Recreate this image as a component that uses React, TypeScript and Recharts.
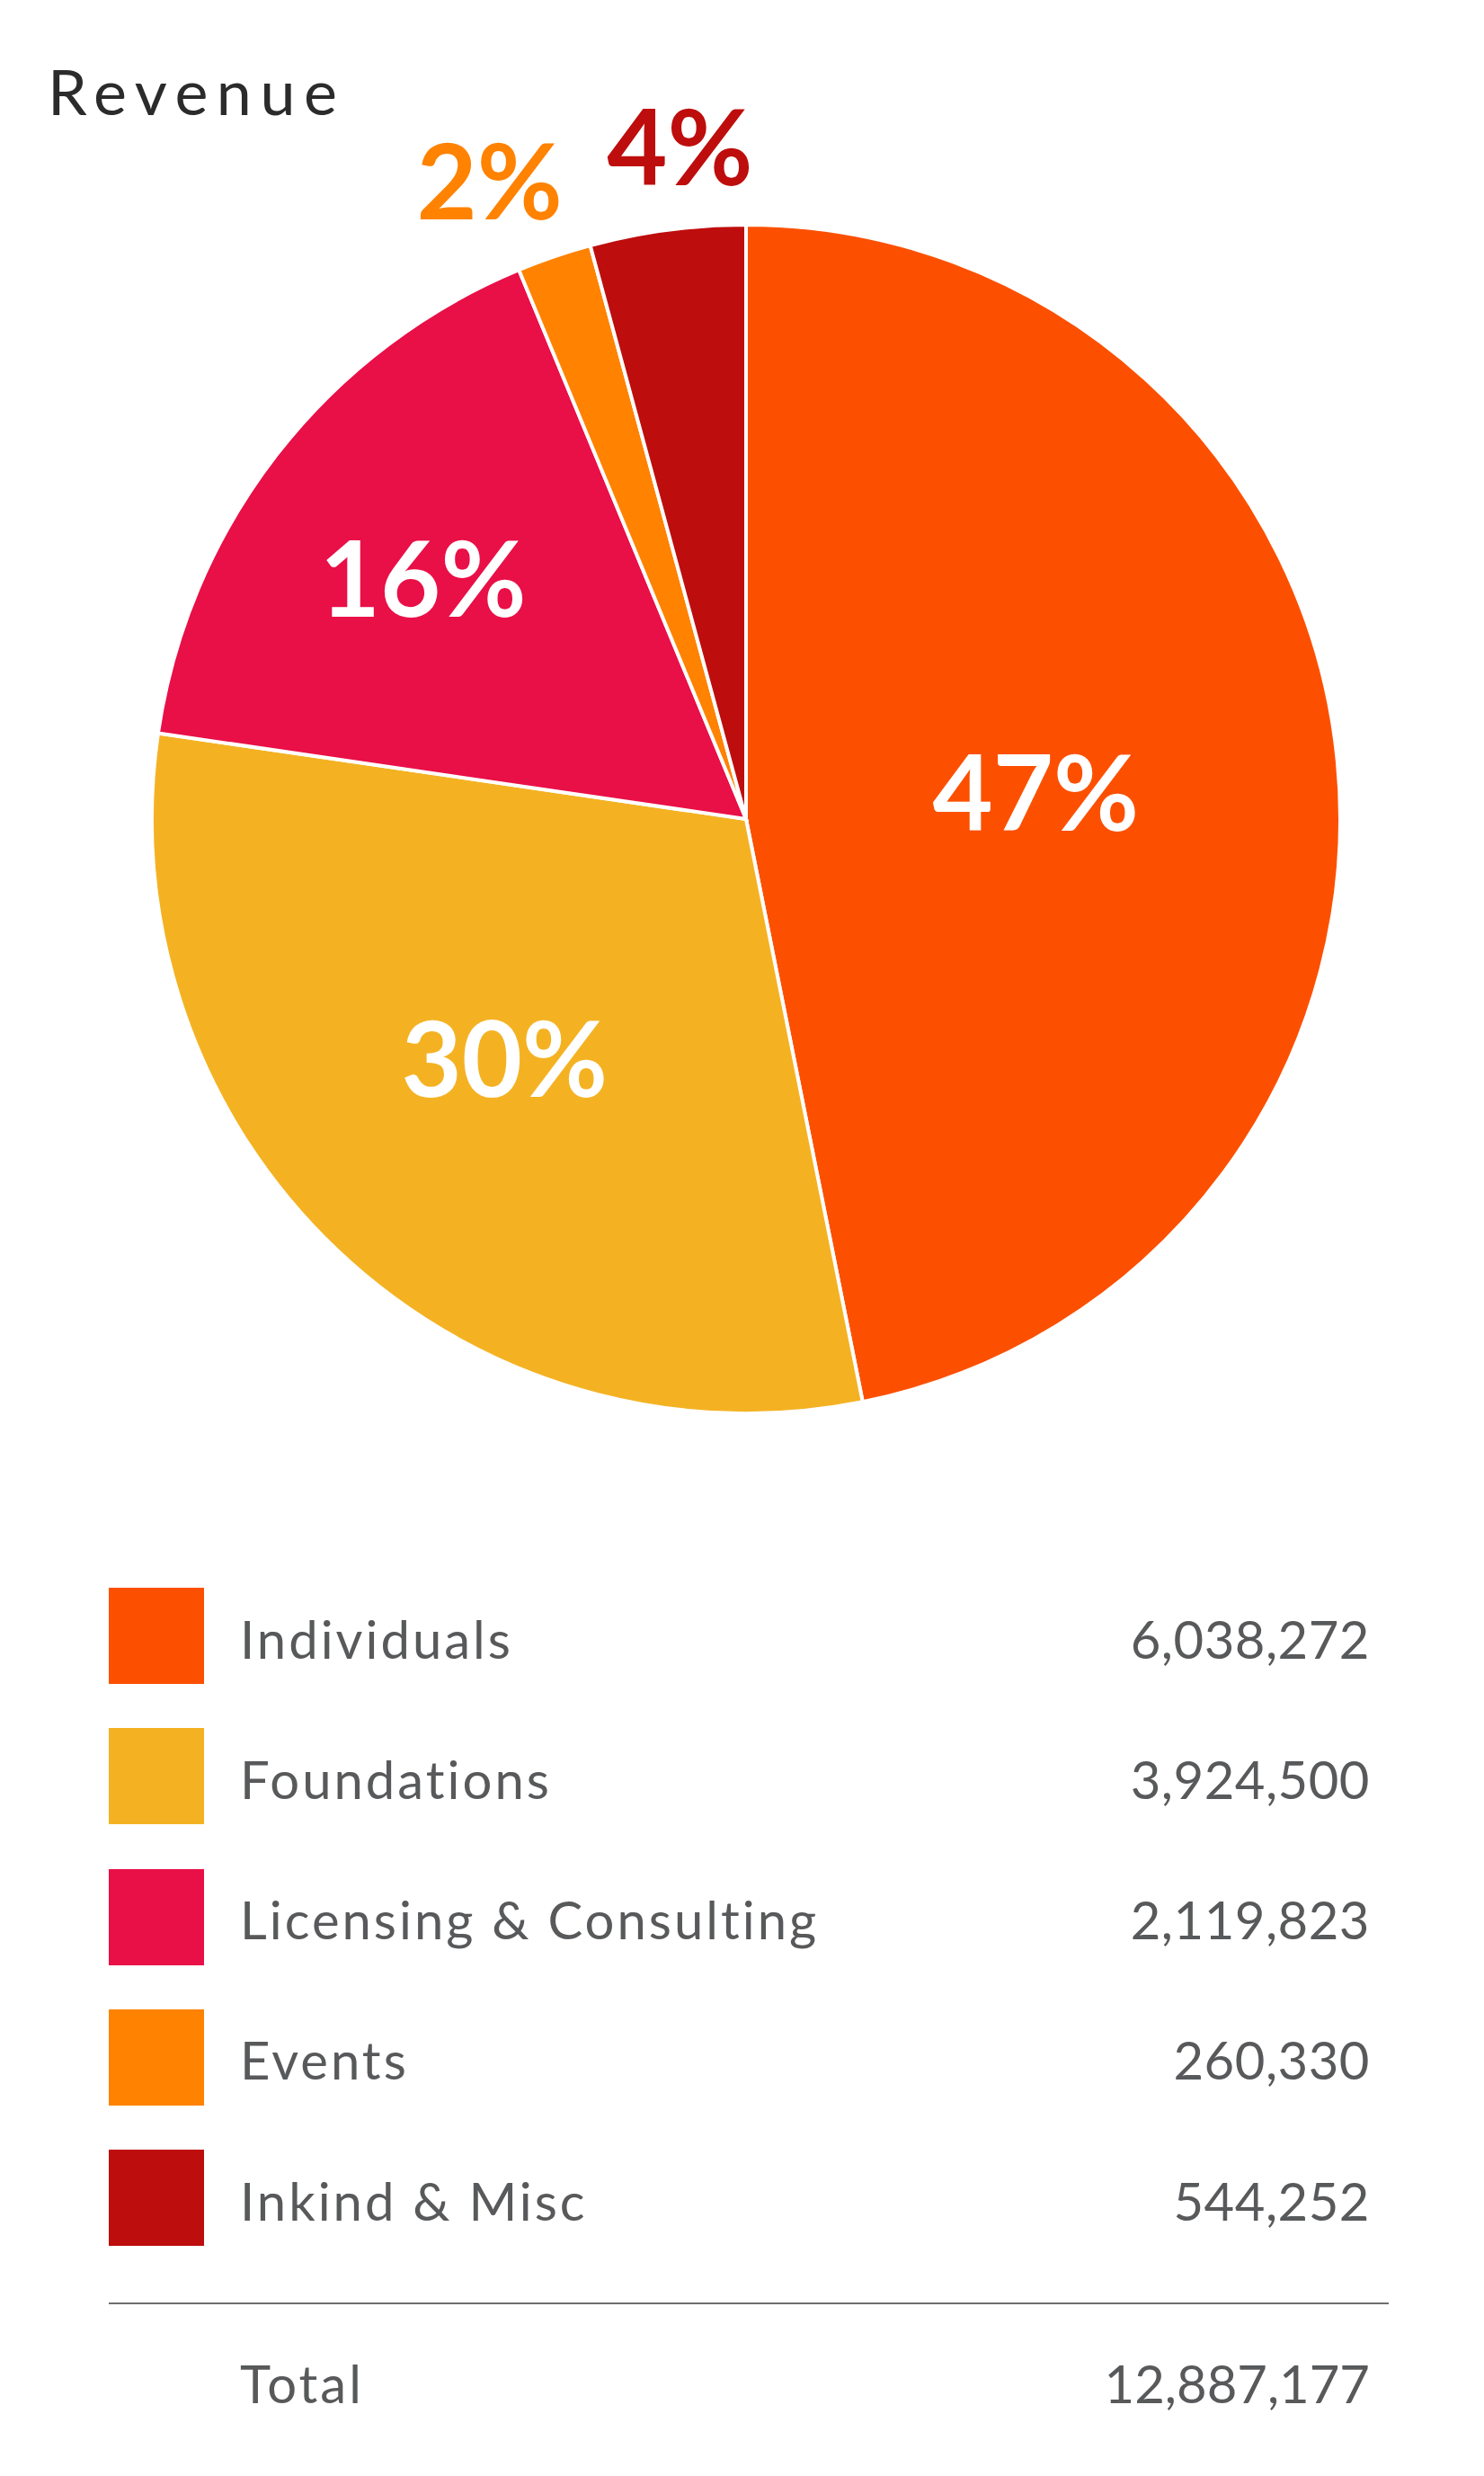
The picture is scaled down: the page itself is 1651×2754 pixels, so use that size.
import React from 'react';
import { PieChart, Pie, Cell } from 'recharts';

// revenue by source
const categories = ['Individuals', 'Foundations', 'Licensing & Consulting', 'Events', 'Inkind & Misc'];
const amounts = [6038272, 3924500, 2119823, 260330, 544252];
const colors = ['#FC5000', '#F4B223', '#E90F47', '#FF8200', '#BE0D0D'];
const title = 'Revenue';
const totalLabel = 'Total';

// label placement per slice: [radius factor, angle nudge in degrees, inside?]
const labelPlacement: [number, number, boolean][] = [
    [0.49, 0, true],
    [0.57, -2, true],
    [0.68, 1, true],
    [1.16, 3, false],
    [1.14, -2, false],
];

const total = amounts.reduce((a, b) => a + b, 0);
const data = categories.map((name, i) => ({ name, value: amounts[i] }));

const FONT = 'Lato, "Open Sans", sans-serif';
const GREY = '#58595B';
const RAD = Math.PI / 180;

const fmt = (n: number) => n.toLocaleString('en-US');

const renderLabel = (props: any) => {
    const { cx, cy, midAngle, outerRadius, index, value } = props;
    const [k, nudge, inside] = labelPlacement[index];
    const a = (midAngle + nudge) * RAD;
    const r = outerRadius * k;
    const x = cx + r * Math.cos(a);
    const y = cy - r * Math.sin(a);
    return (
        <text
            x={x}
            y={y}
            fill={inside ? '#FFFFFF' : colors[index]}
            textAnchor="middle"
            dominantBaseline="central"
            fontFamily={FONT}
            fontWeight={700}
            fontSize={116}
        >
            {Math.round((value / total) * 100)}%
        </text>
    );
};

const ROW_TOP = 1766;
const ROW_STEP = 156.25;
const SWATCH = 107;
const LEGEND_FS = 58;
const VALUE_RIGHT = 1524;

export default function App() {
    return (
        <div style={{ position: 'absolute', left: 0, top: 0, width: 1651, height: 2754, background: '#fff', fontFamily: FONT }}>
            <PieChart width={1651} height={1700} style={{ position: 'absolute', left: 0, top: 0 }}>
                <Pie
                    data={data}
                    dataKey="value"
                    nameKey="name"
                    cx={825}
                    cy={906}
                    outerRadius={661}
                    startAngle={90}
                    endAngle={-270}
                    stroke="#FFFFFF"
                    strokeWidth={4}
                    label={renderLabel}
                    labelLine={false}
                    isAnimationActive={false}
                >
                    {data.map((d, i) => (
                        <Cell key={d.name} fill={colors[i]} />
                    ))}
                </Pie>
            </PieChart>

            <div style={{ position: 'absolute', left: 53, top: 128 - 0.887 * 70, fontSize: 70, lineHeight: '70px', letterSpacing: 9.5, color: '#2B2B2B' }}>
                {title}
            </div>

            {/* legend rows */}
            {data.map((d, i) => {
                const top = ROW_TOP + i * ROW_STEP;
                const textTop = top + 79 - 0.887 * LEGEND_FS;
                return (
                    <React.Fragment key={d.name}>
                        <div style={{ position: 'absolute', left: 121, top, width: 106, height: SWATCH, background: colors[i] }} />
                        <div style={{ position: 'absolute', left: 267, top: textTop, fontSize: LEGEND_FS, lineHeight: `${LEGEND_FS}px`, letterSpacing: 3, color: GREY, whiteSpace: 'nowrap' }}>
                            {d.name}
                        </div>
                        <div style={{ position: 'absolute', right: 1651 - VALUE_RIGHT, top: textTop, fontSize: LEGEND_FS, lineHeight: `${LEGEND_FS}px`, letterSpacing: 0.5, color: GREY, textAlign: 'right', whiteSpace: 'nowrap' }}>
                            {fmt(d.value)}
                        </div>
                    </React.Fragment>
                );
            })}

            <div style={{ position: 'absolute', left: 121, top: 2561, width: 1424, height: 2, background: '#6D6E6D' }} />

            <div style={{ position: 'absolute', left: 267, top: 2673 - 0.887 * LEGEND_FS, fontSize: LEGEND_FS, lineHeight: `${LEGEND_FS}px`, letterSpacing: 3, color: GREY }}>
                {totalLabel}
            </div>
            <div style={{ position: 'absolute', right: 1651 - VALUE_RIGHT, top: 2673 - 0.887 * LEGEND_FS, fontSize: LEGEND_FS, lineHeight: `${LEGEND_FS}px`, letterSpacing: 0, color: GREY, textAlign: 'right' }}>
                {fmt(total)}
            </div>
        </div>
    );
}
